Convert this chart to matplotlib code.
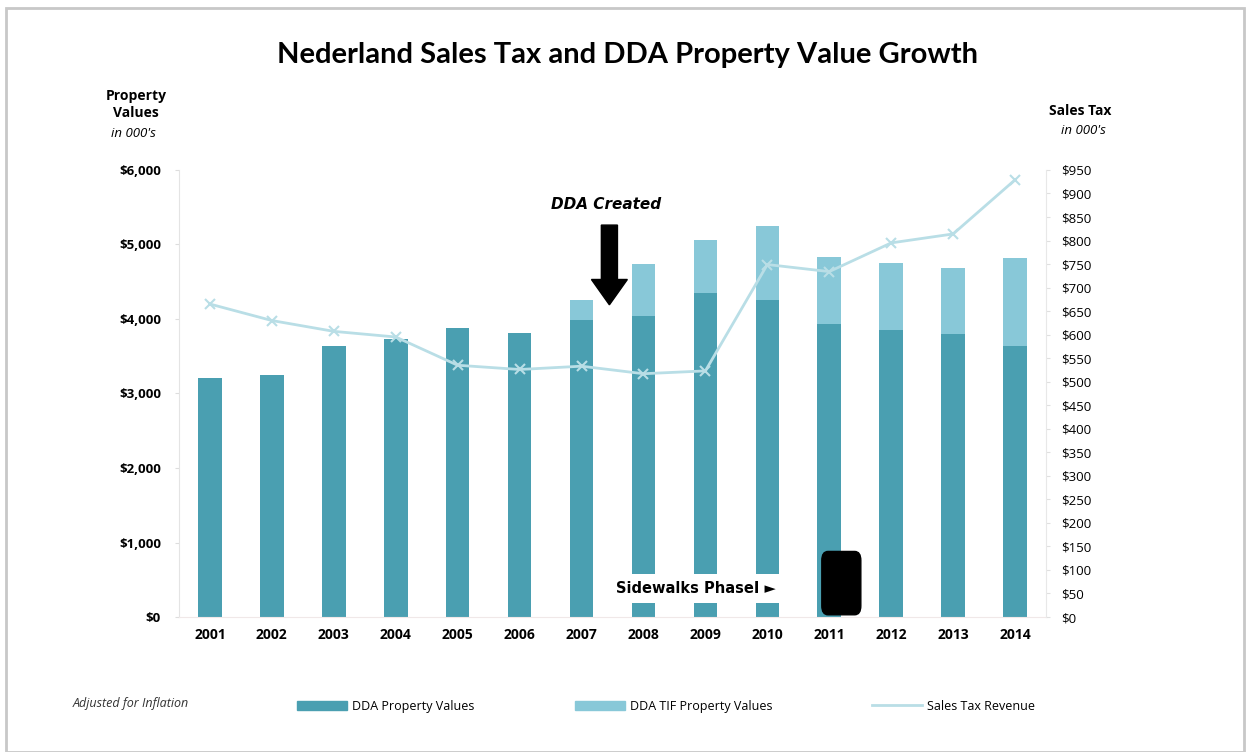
import numpy as np
import matplotlib.pyplot as plt
from matplotlib.patches import Rectangle, FancyBboxPatch, FancyArrow
from matplotlib.lines import Line2D
from matplotlib.patches import Patch

years = ['2001', '2002', '2003', '2004', '2005', '2006', '2007',
         '2008', '2009', '2010', '2011', '2012', '2013', '2014']
dda_values = [3210, 3250, 3640, 3730, 3880, 3810, 3990,
              4040, 4350, 4250, 3930, 3850, 3800, 3640]
tif_values = [0, 0, 0, 0, 0, 0, 265,
              700, 710, 995, 900, 900, 885, 1180]
sales_tax = [665, 630, 607, 595, 535, 526, 533,
             517, 523, 749, 734, 795, 814, 929]

left_ticks = [0, 1000, 2000, 3000, 4000, 5000, 6000]
right_ticks = list(range(0, 1000, 50))

dark = '#4a9fb1'
light = '#88c8d8'
line_c = '#b9dee6'
font = 'Open Sans'

plt.rcParams['font.family'] = [font, 'DejaVu Sans']

fig = plt.figure(figsize=(12.5, 7.52), dpi=100)
ax = fig.add_axes([0.1432, 0.1795, 0.6936, 0.5945])
x = np.arange(len(years))

ax.bar(x, dda_values, width=0.38, color=dark, zorder=2)
ax.bar(x, tif_values, width=0.38, bottom=dda_values, color=light, zorder=2)
ax.set_xlim(-0.5, len(years) - 0.5)
ax.set_ylim(0, 6000)
ax.set_yticks(left_ticks)
ax.set_yticklabels(['${:,}'.format(v) for v in left_ticks], fontweight='bold', fontsize=9.5)
ax.set_xticks(x)
ax.set_xticklabels(years, fontweight='bold', fontsize=10)
ax.tick_params(axis='x', length=0, pad=8)
ax.tick_params(axis='y', length=3, color='#dddddd', pad=10)
for s in ['top', 'right']:
    ax.spines[s].set_visible(False)
ax.spines['left'].set_color('#e4e4e4')
ax.spines['bottom'].set_color('#f0e8e8')

ax2 = ax.twinx()
ax2.plot(x, sales_tax, color=line_c, lw=2, marker='x', ms=7, mew=1.5, zorder=3)
ax2.set_ylim(0, 950)
ax2.set_yticks(right_ticks)
ax2.set_yticklabels(['${}'.format(v) for v in right_ticks], fontsize=9.5)
ax2.tick_params(axis='y', length=3, color='#e0e0e0', pad=8)
for s in ['top', 'left', 'bottom']:
    ax2.spines[s].set_visible(False)
ax2.spines['right'].set_color('#e8e8e8')

# annotations
ax.text(6.4, 5530, 'DDA Created', fontsize=11, fontweight='bold', fontstyle='italic',
        ha='center', va='center', family='DejaVu Sans')
ax.add_patch(FancyArrow(6.45, 5260, 0, -1070, width=0.26, head_width=0.58,
                        head_length=340, length_includes_head=True,
                        color='black', zorder=5))
ax.text(7.85, 380, 'Sidewalks PhaseI \u25ba', fontsize=10.5, fontweight='bold',
        ha='center', va='center', family='DejaVu Sans', zorder=6,
        bbox=dict(boxstyle='square,pad=0.5', fc='white', ec='none'))
ax.add_patch(FancyBboxPatch((9.88, 30), 0.63, 850,
                            boxstyle='round,pad=0,rounding_size=0.1',
                            mutation_aspect=1200, fc='black', ec='black', zorder=6))

# headers
fig.text(0.109, 0.861, 'Property\nValues', ha='center', va='center', fontsize=10,
         fontweight='bold', linespacing=1.35)
fig.text(0.107, 0.823, "in 000's", ha='center', va='center', fontsize=9.5, fontstyle='italic')
fig.text(0.864, 0.853, 'Sales Tax', ha='center', va='center', fontsize=10, fontweight='bold')
fig.text(0.867, 0.826, "in 000's", ha='center', va='center', fontsize=9.5, fontstyle='italic')

fig.text(0.502, 0.927, 'Nederland Sales Tax and DDA Property Value Growth',
         ha='center', va='center', fontsize=21, fontweight='bold', family='Lato')

fig.text(0.058, 0.064, 'Adjusted for Inflation', fontsize=9, fontstyle='italic',
         ha='left', va='center', color='#333333')

handles = [Patch(color=dark), Patch(color=light), Line2D([], [], color=line_c, lw=2)]
labels = ['DDA Property Values', 'DDA TIF Property Values', 'Sales Tax Revenue']
fig.legend(handles, labels, loc='center', bbox_to_anchor=(0.533, 0.061), ncol=3,
           frameon=False, fontsize=9, handlelength=4, handleheight=0.7,
           columnspacing=8, handletextpad=0.4)

fig.patches.append(Rectangle((0.005, 0.0), 0.99, 0.99, transform=fig.transFigure,
                             fill=False, ec='#c8c8c8', lw=2))

fig.savefig('out.png', dpi=100)
